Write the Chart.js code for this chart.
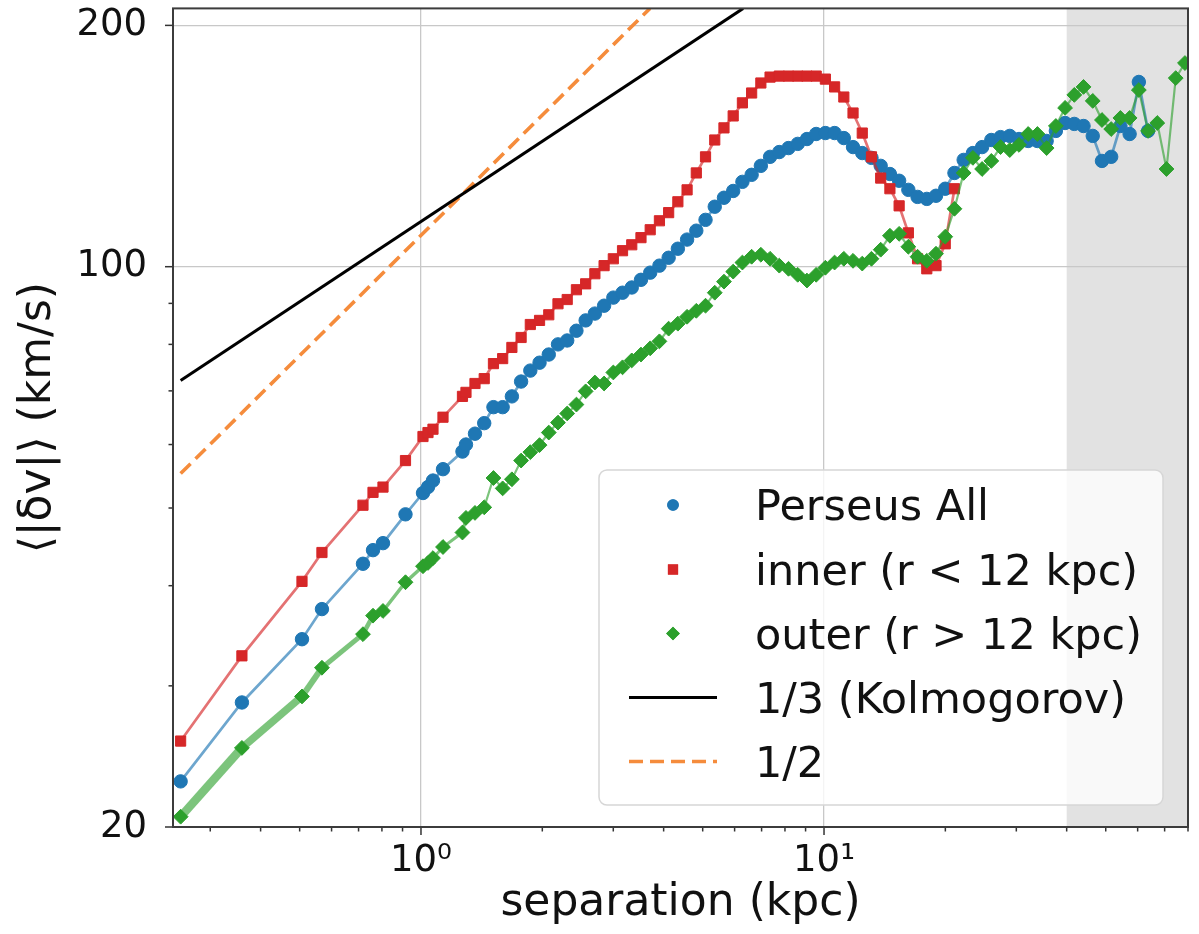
<!DOCTYPE html>
<html><head><meta charset="utf-8">
<script src="https://cdn.jsdelivr.net/npm/chart.js@4.4.0/dist/chart.umd.min.js"></script>
<style>html,body{margin:0;padding:0;background:#fff;}#wrap{width:1199px;height:934px;}</style>
</head><body><div id="wrap"><canvas id="c" width="1199" height="934"></canvas></div>
<script>
// ---------------- data ----------------
const separation = [
  0.2533, 0.3595, 0.5067, 0.5679, 0.7179, 0.7603, 0.8049, 0.9153, 1.0115, 1.0408, 1.0709, 1.1340, 1.2674, 1.2931,
  1.3614, 1.4352, 1.5129, 1.5946, 1.6809, 1.7718, 1.8676, 1.9687, 2.0752, 2.1875, 2.3058, 2.4305, 2.5620, 2.7006,
  2.8467, 3.0007, 3.1627, 3.3340, 3.5143, 3.7045, 3.9049, 4.1161, 4.3387, 4.5733, 4.8209, 5.0816, 5.3565, 5.6463,
  5.9516, 6.2735, 6.6130, 6.9705, 7.3476, 7.7449, 8.1640, 8.6056, 9.0711, 9.5617, 10.078, 10.623, 11.198, 11.803,
  12.442, 13.115, 13.823, 14.571, 15.359, 16.190, 17.065, 17.988, 18.961, 19.987, 21.068, 22.207, 23.408, 24.674,
  26.008, 27.415, 28.898, 30.461, 32.108, 33.845, 35.676, 37.605, 39.639, 41.783, 44.043, 46.425, 48.935, 51.582,
  54.372, 57.313, 60.413, 63.679, 67.123, 70.754, 74.581, 78.615
];
const perseusAll = [
  22.8, 28.6, 34.3, 37.4, 42.6, 44.3, 45.2, 49.1, 52.2, 53.1, 54.1, 55.9, 58.8, 60.0,
  61.9, 63.8, 66.8, 66.8, 68.9, 71.9, 74.2, 75.9, 77.7, 80.0, 80.9, 83.2, 85.7, 87.4,
  89.4, 91.5, 92.8, 94.2, 96.3, 98.3, 100.3, 102.6, 105.3, 108.1, 110.9, 114.4, 118.8, 121.9,
  124.3, 127.6, 130.2, 133.6, 137.1, 139.0, 140.6, 142.3, 144.3, 146.4, 146.8, 146.8, 144.7, 141.0,
  138.6, 136.7, 133.6, 130.5, 128.0, 124.7, 122.2, 121.5, 122.6, 125.1, 130.9, 135.9, 138.6, 141.0,
  143.9, 145.1, 145.6, 144.3, 143.5, 143.5, 143.5, 147.7, 151.1, 150.7, 149.8, 145.6, 135.5, 137.1,
  149.8, 146.4, 170.0, 147.7, null, null, null, null
];
const inner = [
  25.6, 32.7, 40.5, 44.0, 50.4, 52.3, 53.1, 57.3, 61.4, 62.1, 62.7, 64.9, 68.9, 69.7,
  71.5, 72.5, 75.7, 76.8, 79.3, 81.6, 84.7, 85.7, 87.1, 89.9, 91.0, 93.6, 95.2, 98.0,
  100.3, 102.3, 104.7, 106.5, 108.7, 111.2, 114.1, 116.8, 120.5, 124.7, 130.9, 137.1, 143.9, 149.0,
  154.2, 160.1, 164.7, 169.5, 172.4, 172.9, 172.9, 172.9, 172.9, 172.9, 171.4, 167.6, 162.8, 155.5,
  146.8, 137.1, 129.0, 125.1, 119.1, 110.2, 102.3, 99.4, 100.3, 106.8, 125.1, null, null, null,
  null, null, null, null, null, null, null, null, null, null, null, null, null, null,
  null, null, null, null, null, null, null, null
];
const outer = [
  20.6, 25.1, 29.1, 31.6, 34.8, 36.7, 37.2, 40.4, 42.3, 42.7, 43.3, 44.7, 46.6, 48.6,
  49.3, 50.1, 54.5, 52.9, 54.3, 57.3, 58.7, 59.9, 62.1, 63.9, 65.6, 67.3, 69.9, 71.7,
  71.5, 73.8, 74.9, 76.4, 77.7, 79.1, 80.7, 83.7, 84.9, 86.6, 88.1, 89.4, 92.8, 95.8,
  98.6, 101.2, 102.9, 103.5, 102.3, 100.3, 99.4, 97.7, 96.1, 97.7, 99.7, 101.2, 102.3, 101.7,
  100.9, 102.3, 105.0, 109.3, 109.9, 105.9, 102.9, 101.7, 103.8, 109.0, 118.1, 130.9, 136.7, 132.4,
  135.5, 141.0, 139.8, 141.9, 146.4, 146.4, 140.6, 149.8, 157.8, 163.8, 167.6, 161.0, 152.4, 148.5,
  153.3, 153.3, 166.1, 147.7, 151.1, 132.4, 171.9, 179.5
];
// reference power-law lines (end points)
const kolmogorovX = [0.2533, 6.30];
const kolmogorovY = [72.1, 210];
const halfX = [0.2533, 3.70];
const halfY = [55.2, 210];
// axes
const xRange = [0.2425, 80];
const yRange = [20, 210];
const xTicks = [0.3, 0.4, 0.5, 0.6, 0.7, 0.8, 0.9, 1, 2, 3, 4, 5, 6, 7, 8, 9, 10, 20, 30, 40, 50, 60, 70, 80];
const xTickLabels = {1: '10\u2070', 10: '10\u00B9'};
const yTicks = [20, 30, 40, 50, 60, 70, 80, 90, 100, 200];
const yTickLabels = {20: '20', 100: '100', 200: '200'};
const shadeRange = [40, 80];
// ------------------------------------------------------------------------

const FONT = "'DejaVu Sans', 'Liberation Sans', sans-serif";
const pts = (xs, ys) => xs.map((x, i) => ({x: x, y: ys[i]}));

const GREEN_W = [8.5, 7.5, 6, 5, 4.5, 4, 3.5, 3.5, 3, 3, 3, 3, 3];
const DASH = [14, 7];

const datasets = [
  {label: 'Perseus All', data: pts(separation, perseusAll), borderColor: 'rgba(31,119,180,0.65)',
   pointBackgroundColor: '#1f77b4', pointBorderColor: '#1f77b4', pointStyle: 'circle', pointRadius: 6.7,
   pointBorderWidth: 1, borderWidth: 2.7, order: 3, legendMarker: {style: 'circle', r: 5.8}},
  {label: 'inner (r < 12 kpc)', data: pts(separation, inner), borderColor: 'rgba(214,39,40,0.65)',
   pointBackgroundColor: '#d62728', pointBorderColor: '#d62728', pointStyle: 'rect', pointRadius: 7.2,
   pointBorderWidth: 1, borderWidth: 2.7, order: 2, legendMarker: {style: 'rect', r: 7.2}},
  {label: 'outer (r > 12 kpc)', data: pts(separation, outer), borderColor: 'rgba(44,160,44,0.62)',
   pointBackgroundColor: '#2ca02c', pointBorderColor: '#2ca02c', pointStyle: 'rectRot', pointRadius: 7.4,
   pointBorderWidth: 1, borderWidth: 2, order: 1,
   segment: {borderWidth: c => (c.p0DataIndex < GREEN_W.length ? GREEN_W[c.p0DataIndex] : 2.2)},
   legendMarker: {style: 'rectRot', r: 6.8}},
  {label: '1/3 (Kolmogorov)', data: pts(kolmogorovX, kolmogorovY), borderColor: '#000',
   borderWidth: 3, pointRadius: 0, order: 4, legendLine: {dash: []}},
  {label: '1/2', data: pts(halfX, halfY), borderColor: 'rgb(245,140,60)',
   borderWidth: 3.6, borderDash: DASH, pointRadius: 0, order: 5, legendLine: {dash: DASH}}
];

const decor = {
  id: 'decor',
  beforeDraw(chart) {
    const {ctx, chartArea: a, scales: {x}} = chart;
    ctx.save();
    ctx.fillStyle = '#fff';
    ctx.fillRect(0, 0, chart.width, chart.height);
    const x0 = Math.max(x.getPixelForValue(shadeRange[0]), a.left);
    const x1 = Math.min(x.getPixelForValue(shadeRange[1]), a.right);
    ctx.fillStyle = '#e2e2e2';
    ctx.fillRect(x0, a.top, x1 - x0, a.bottom - a.top);
    ctx.restore();
  },
  afterDatasetsDraw(chart) {
    const {ctx, chartArea: a, scales: {x, y}} = chart;
    ctx.save();
    ctx.strokeStyle = '#333';
    ctx.lineWidth = 1.5;
    xTicks.forEach(v => {
      const px = x.getPixelForValue(v);
      const len = (v in xTickLabels) ? 8 : 4.5;
      ctx.beginPath(); ctx.moveTo(px, a.bottom); ctx.lineTo(px, a.bottom + len); ctx.stroke();
    });
    yTicks.forEach(v => {
      const py = y.getPixelForValue(v);
      const len = (v in yTickLabels) ? 8 : 4.5;
      ctx.beginPath(); ctx.moveTo(a.left, py); ctx.lineTo(a.left - len, py); ctx.stroke();
    });
    ctx.lineWidth = 2;
    ctx.strokeStyle = '#3c3c3c';
    ctx.strokeRect(a.left, a.top, a.right - a.left, a.bottom - a.top);
    ctx.restore();
  },
  afterDraw(chart) {
    const {ctx} = chart;
    const box = {l: 599, t: 470, r: 1163, b: 805};
    ctx.save();
    ctx.beginPath();
    ctx.roundRect(box.l, box.t, box.r - box.l, box.b - box.t, 8);
    ctx.fillStyle = 'rgba(255,255,255,0.8)';
    ctx.fill();
    ctx.strokeStyle = '#d6d6d6';
    ctx.lineWidth = 1.5;
    ctx.stroke();
    const baselines = [520, 584.5, 648.5, 712.5, 776.5];
    ctx.font = '43px ' + FONT;
    ctx.textBaseline = 'alphabetic';
    ctx.textAlign = 'left';
    chart.data.datasets.forEach((ds, i) => {
      const by = baselines[i];
      const cy = by - 15;
      const cx = 673;
      if (ds.legendMarker) {
        ctx.fillStyle = ds.pointBackgroundColor;
        Chart.helpers.drawPoint(ctx, {pointStyle: ds.legendMarker.style, radius: ds.legendMarker.r, borderWidth: 0, rotation: 0}, cx, cy);
        ctx.fill();
      } else {
        ctx.beginPath();
        ctx.strokeStyle = ds.borderColor;
        ctx.lineWidth = ds.borderWidth;
        ctx.setLineDash(ds.legendLine.dash);
        ctx.moveTo(629, cy); ctx.lineTo(717, cy); ctx.stroke();
        ctx.setLineDash([]);
      }
      ctx.fillStyle = '#111';
      ctx.fillText(ds.label, 755, by);
    });
    ctx.restore();
  }
};

new Chart(document.getElementById('c'), {
  type: 'line',
  data: {datasets: datasets},
  plugins: [decor],
  options: {
    responsive: false, animation: false, devicePixelRatio: 1, events: [],
    layout: {padding: {top: 7, right: 11, left: 0, bottom: 0}},
    plugins: {legend: {display: false}, tooltip: {enabled: false}},
    elements: {line: {tension: 0}},
    scales: {
      x: {
        type: 'logarithmic', min: xRange[0], max: xRange[1],
        afterBuildTicks: s => { s.ticks = xTicks.map(v => ({value: v})); },
        afterFit: s => { s.height = 107; s.paddingLeft = 0; s.paddingRight = 0; s.paddingTop = 0; s.paddingBottom = 0; },
        ticks: {autoSkip: false, maxRotation: 0, padding: 12, color: '#111',
                font: {family: FONT, size: 37}, callback: v => xTickLabels[v] || ''},
        grid: {drawTicks: false, lineWidth: 1.3,
               color: c => (c.tick && (c.tick.value in xTickLabels)) ? '#c8c8c8' : 'rgba(0,0,0,0)'},
        border: {display: false},
        title: {display: true, text: 'separation (kpc)', color: '#111',
                font: {family: FONT, size: 44}, padding: {top: 0, bottom: 4}}
      },
      y: {
        type: 'logarithmic', min: yRange[0], max: yRange[1],
        afterBuildTicks: s => { s.ticks = yTicks.map(v => ({value: v})); },
        afterFit: s => { s.width = 173; s.paddingLeft = 0; s.paddingRight = 0; s.paddingTop = 0; s.paddingBottom = 0; },
        ticks: {autoSkip: false, padding: 26, color: '#111',
                font: {family: FONT, size: 37}, callback: v => yTickLabels[v] || ''},
        grid: {drawTicks: false, lineWidth: 1.3,
               color: c => (c.tick && (c.tick.value === 100 || c.tick.value === 200)) ? '#c8c8c8' : 'rgba(0,0,0,0)'},
        border: {display: false},
        title: {display: true, text: '\u27E8|\u03B4v|\u27E9 (km/s)', color: '#111',
                font: {family: FONT, size: 44}, padding: {top: 12, bottom: 0}}
      }
    }
  }
});
</script></body></html>
